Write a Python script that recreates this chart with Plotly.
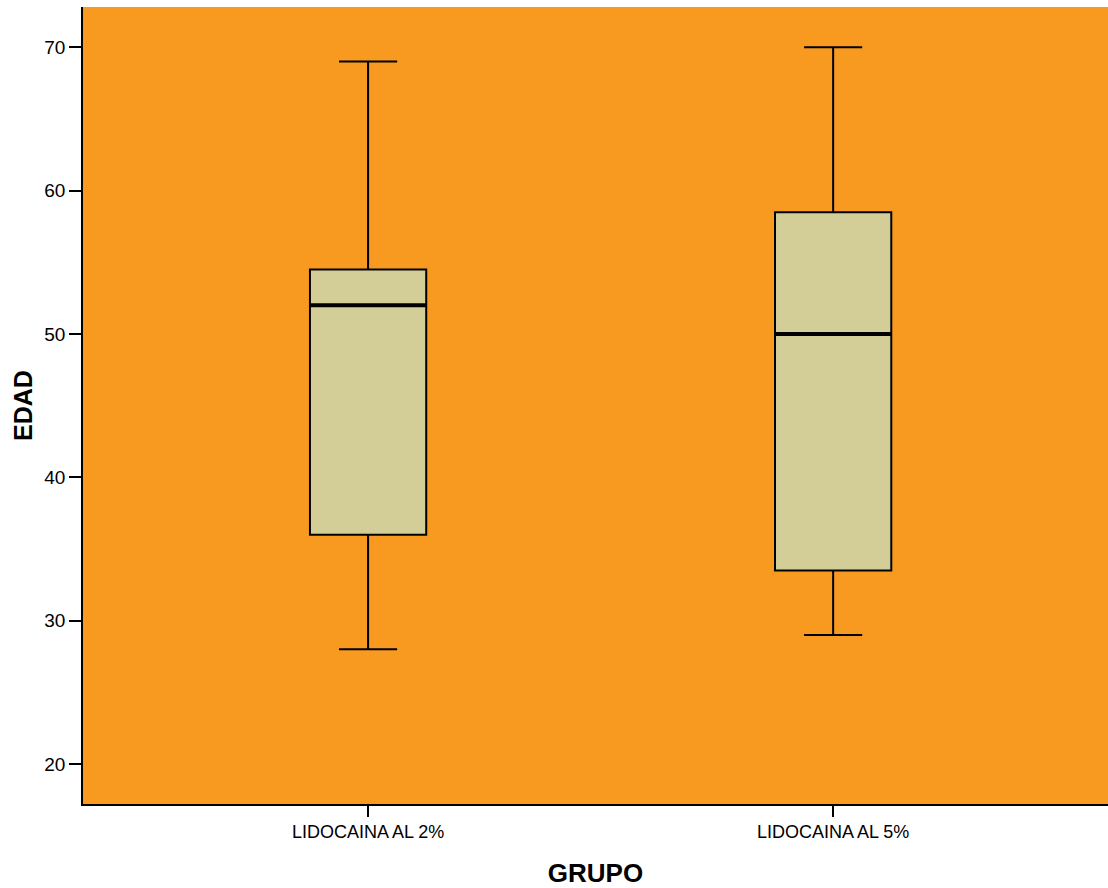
import plotly.graph_objects as go

categories = ["LIDOCAINA AL 2%", "LIDOCAINA AL 5%"]
lower_whisker = [28, 29]
q1_values = [36, 33.5]
medians = [52, 50]
q3_values = [54.5, 58.5]
upper_whisker = [69, 70]
y_ticks = [20, 30, 40, 50, 60, 70]

box_width = 0.25
fig = go.Figure()
for i, cat in enumerate(categories):
    fig.add_trace(go.Box(
        x=[i], q1=[q1_values[i]], median=[medians[i]], q3=[q3_values[i]],
        lowerfence=[lower_whisker[i]], upperfence=[upper_whisker[i]],
        width=box_width, whiskerwidth=0.5,
        fillcolor="#D3CD97", line=dict(color="black", width=2),
        boxpoints=False, name=cat, showlegend=False, hoverinfo="skip",
    ))
    fig.add_trace(go.Scatter(
        x=[i - box_width / 2, i + box_width / 2], y=[medians[i], medians[i]],
        mode="lines", line=dict(color="black", width=4),
        showlegend=False, hoverinfo="skip",
    ))

fig.update_layout(
    width=1108, height=888,
    margin=dict(l=83, r=0, t=7, b=84),
    paper_bgcolor="white", plot_bgcolor="#F99A20",
    font=dict(family="Liberation Sans, Arial, sans-serif", color="black", size=18),
    xaxis=dict(
        range=[-0.613, 1.591], tickvals=[0, 1], ticktext=categories,
        tickfont=dict(size=18),
        ticks="outside", ticklen=11, tickwidth=1.5, tickcolor="black",
        showline=True, linecolor="black", linewidth=1.5,
        showgrid=False, zeroline=False,
        title=dict(text="<b>GRUPO</b>", font=dict(size=26), standoff=25),
    ),
    yaxis=dict(
        range=[17.21, 72.81], tickvals=y_ticks,
        tickfont=dict(size=19),
        ticks="outside", ticklen=12, tickwidth=1.5, tickcolor="black",
        showline=True, linecolor="black", linewidth=1.5,
        showgrid=False, zeroline=False,
        title=dict(text="<b>EDAD</b>", font=dict(size=25), standoff=5),
    ),
)
fig.write_html("out.html", config={"displayModeBar": False},
               post_script="document.body.style.margin='0';")
